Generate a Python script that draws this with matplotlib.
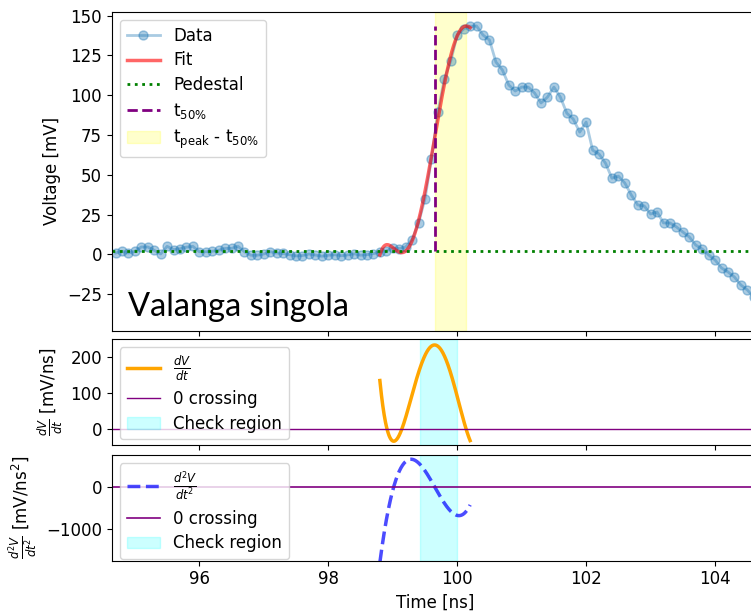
import numpy as np
import matplotlib.pyplot as plt
from numpy.polynomial import Polynomial

# waveform samples (mV), uniform sampling
t_start, dt = 94.70, 0.1
voltage = [0.8, 1.9, 0.8, 1.9, 4.6, 4.6, 2.5, 0.2, 5.0, 3.0,
           3.5, 4.5, 5.0, 1.6, 1.6, 1.9, 2.5, 3.7, 3.7, 5.0,
           1.6, -0.6, -0.6, 0.2, 1.6, 0.8, 0.5, -0.3, -1.0, -0.8,
           0.2, -0.5, -1.2, -0.6, -0.3, -0.9, -0.4, 0.3, -0.6, -0.2,
           0.4, 1.4, 2.2, 3.8, 3.6, 4.6, 9.2, 19.7, 34.8, 59.9,
           89.4, 110.2, 121.5, 137.8, 141.6, 143.3, 143.5, 137.8, 134.7, 120.9,
           115.9, 106.4, 102.6, 105.1, 105.1, 101.4, 95.1, 98.8, 105.1, 98.8,
           88.7, 85.0, 76.8, 83.1, 65.5, 63.0, 57.3, 47.8, 49.1, 44.8,
           37.3, 31.0, 30.4, 25.3, 26.6, 19.7, 19.7, 17.2, 14.0, 10.9,
           5.8, 3.3, -0.4, -3.6, -8.6, -11.1, -14.3, -19.3, -22.4, -27.0]
pedestal = 1.9
fit_window = (98.75, 100.25)
check_region = (99.43, 99.99)

t = t_start + dt * np.arange(len(voltage))
v = np.array(voltage)

# polynomial fit of the rising edge
sel = (t >= fit_window[0]) & (t <= fit_window[1])
poly = Polynomial.fit(t[sel], v[sel], 5)
tf = np.linspace(t[sel][0], t[sel][-1], 400)
fit = poly(tf)
d1 = poly.deriv(1)(tf)
d2 = poly.deriv(2)(tf)

vmax = fit.max()
tpeak = tf[np.argmax(fit)]
half = pedestal + 0.5 * (vmax - pedestal)
t50 = tf[np.argmax(fit >= half)]

plt.rcParams['font.size'] = 12
plt.rcParams['legend.labelspacing'] = 0.4
fig = plt.figure(figsize=(7.51, 6.11), dpi=100)
ax1 = fig.add_axes([0.1487, 0.4583, 0.861, 0.5226])
ax2 = fig.add_axes([0.1487, 0.2717, 0.861, 0.1735], sharex=ax1)
ax3 = fig.add_axes([0.1487, 0.0823, 0.861, 0.1730], sharex=ax1)

ax1.plot(t, v, 'o-', color='tab:blue', alpha=0.38, lw=2, ms=6.5, label='Data')
ax1.plot(tf, fit, color='red', alpha=0.6, lw=2.5, label='Fit')
ax1.axhline(pedestal, color='green', ls=':', lw=2, label='Pedestal')
ax1.vlines(t50, pedestal, vmax, color='purple', ls='--', lw=2, label=r't$_{50\%}$')
ax1.axvspan(t50, tpeak, color='yellow', alpha=0.2, label=r't$_{\rm peak}$ - t$_{50\%}$')
ax1.set_ylabel('Voltage [mV]')
ax1.set_ylim(-48.2, 152.5)
ax1.legend(loc='upper left')
ax1.text(0.025, 0.047, 'Valanga singola', transform=ax1.transAxes,
         fontsize=23.5, family='Lato', va='baseline')
ax1.tick_params(labelbottom=False)

ax2.plot(tf, d1, color='orange', lw=2.5, label=r'$\frac{dV}{dt}$')
ax2.axhline(0, color='purple', lw=1, label='0 crossing')
ax2.axvspan(*check_region, color='cyan', alpha=0.2, label='Check region')
ax2.set_ylabel(r'$\frac{dV}{dt}$ [mV/ns]')
ax2.set_ylim(-43.6, 250.8)
ax2.legend(loc='upper left')
ax2.tick_params(labelbottom=False)

ax3.plot(tf, d2, color='blue', alpha=0.7, ls='--', lw=2.5, label=r'$\frac{d^2V}{dt^2}$')
ax3.axhline(0, color='purple', lw=1.2, label='0 crossing')
ax3.axvspan(*check_region, color='cyan', alpha=0.2, label='Check region')
ax3.set_ylabel(r'$\frac{d^2V}{dt^2}$ [mV/ns$^2$]')
ax3.set_ylim(-1749, 749)
ax3.legend(loc='upper left')
ax3.set_xlabel('Time [ns]')
ax3.set_xlim(94.64, 104.67)

fig.savefig('out.png', dpi=100)
